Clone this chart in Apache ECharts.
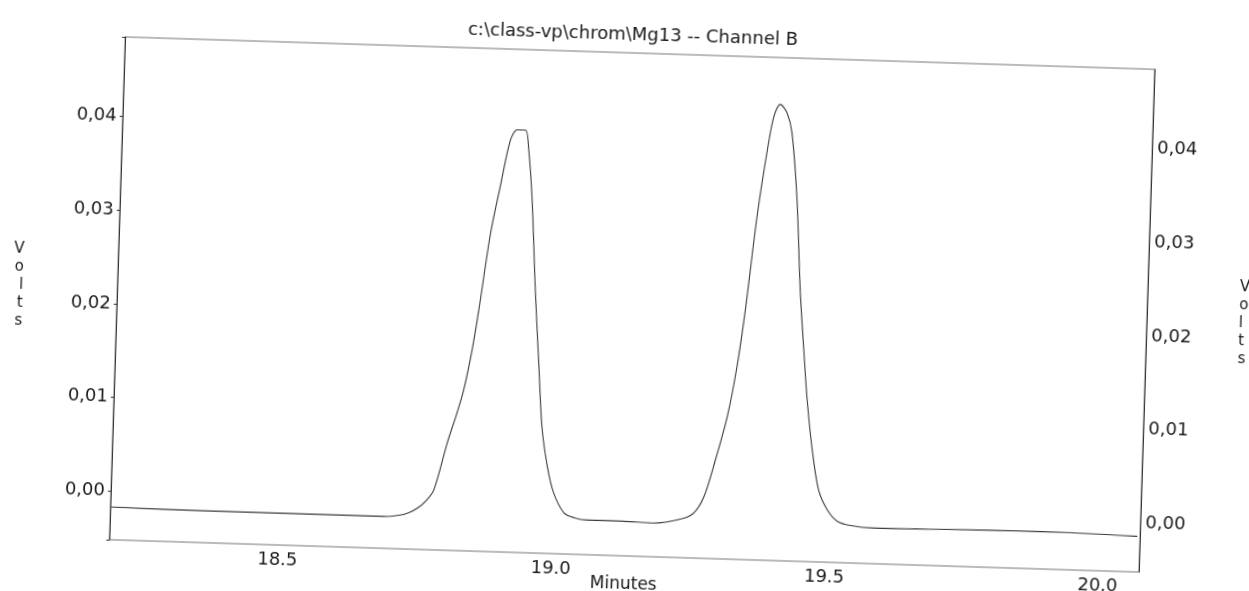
<!DOCTYPE html>
<html style="height: 100%">
    <head>
        <title>Chromatogram Channel B</title>
        <script type="text/javascript" src="https://fastly.jsdelivr.net/npm/echarts@6/dist/echarts.min.js"></script>

<style>
    /* the scanned printout sits a little skewed, so tilt the chart the same way */
    #target {
        width: 1249px;
        height: 591px;
        transform: rotate(1.8deg);
        transform-origin: 631.6px 304.7px;
    }
</style>
    </head>

    <body style="height: 100%; margin: 0; background: #ffffff; overflow: hidden">
        <div id="target"></div>

<script type="text/javascript">
// chart text
let titleText = "c:\\class-vp\\chrom\\Mg13 -- Channel B";
let xName = "Minutes";
let yName = "V\no\nl\nt\ns";

// axis ranges
let xMin = 18.192;
let xMax = 20.075;
let yMin = -0.0052;
let yMax = 0.0485;

// detector trace, minutes
let times = [
    18.192, 18.357, 18.540, 18.692, 18.722, 18.738, 18.753, 18.768, 18.782, 18.804,
    18.820, 18.831, 18.844, 18.854, 18.871, 18.886, 18.902, 18.914, 18.929, 18.936,
    18.945, 18.956, 18.967, 18.976, 18.988, 19.001, 19.021, 19.040, 19.064, 19.125,
    19.186, 19.234, 19.258, 19.276, 19.292, 19.314, 19.329, 19.341, 19.357, 19.372,
    19.382, 19.393, 19.406, 19.416, 19.429, 19.440, 19.450, 19.459, 19.471, 19.485,
    19.502, 19.521, 19.545, 19.588, 19.710, 19.893, 20.070,
];

// detector trace, volts
let volts = [
    -0.0017, -0.0018, -0.0018, -0.0018, -0.0016, -0.0013, -0.0008, 0.0000, 0.0012, 0.0063,
    0.0095, 0.0120, 0.0163, 0.0206, 0.0288, 0.0338, 0.0388, 0.0399, 0.0399, 0.0378,
    0.0325, 0.0229, 0.0147, 0.0083, 0.0041, 0.0013, -0.0008, -0.0013, -0.0015, -0.0015,
    -0.0016, -0.0011, -0.0004, 0.0014, 0.0047, 0.0100, 0.0154, 0.0215, 0.0315, 0.0386,
    0.0422, 0.0435, 0.0426, 0.0405, 0.0334, 0.0238, 0.0174, 0.0121, 0.0068, 0.0025,
    0.0004, -0.0008, -0.0012, -0.0014, -0.0013, -0.0012, -0.0014,
];

let chart = echarts.init(document.getElementById('target'));

let data = [];
times.forEach((t, i) => {
    data.push([t, volts[i]]);
});

let textStyle = {
    fontFamily: "DejaVu Sans",
    fontSize: 18,
    color: "#1a1a1a",
};

// only label the round values, not the ends of the range
let FmtX = (v) => {
    if (Math.abs(v * 2 - Math.round(v * 2)) > 1e-6) return "";
    return v.toFixed(1);
};
let FmtY = (v) => {
    if (Math.abs(v * 100 - Math.round(v * 100)) > 1e-6) return "";
    return v.toFixed(2).replace(".", ",");
};

let MakeYAxis = (position, margin, nameGap, namePadding) => {
    return {
        type: "value",
        position: position,
        min: yMin,
        max: yMax,
        minInterval: 0.01,
        maxInterval: 0.01,
        name: yName,
        nameLocation: "middle",
        nameRotate: 0,
        nameGap: nameGap,
        nameMoveOverlap: false,
        nameTextStyle: {
            fontFamily: "DejaVu Sans",
            fontSize: 15,
            lineHeight: 18,
            color: "#1a1a1a",
            padding: namePadding,
        },
        axisLine: {
            show: true,
            lineStyle: { color: "#333333", width: 1 },
        },
        axisTick: {
            show: position == "left",
            length: 3,
            lineStyle: { color: "#333333" },
        },
        axisLabel: Object.assign({ margin: margin, formatter: FmtY }, textStyle),
        splitLine: { show: false },
    };
};

let option = {
    animation: false,
    backgroundColor: "#ffffff",
    title: {
        text: titleText,
        left: "center",
        top: 12,
        textStyle: {
            fontFamily: "DejaVu Sans",
            fontSize: 18,
            fontWeight: "normal",
            color: "#1a1a1a",
        },
    },
    grid: {
        left: 117,
        right: 102,
        top: 53,
        bottom: 35,
        outerBoundsMode: "none",
        show: true,
        borderColor: "#777777",
        borderWidth: 1,
    },
    xAxis: {
        type: "value",
        min: xMin,
        max: xMax,
        minInterval: 0.5,
        maxInterval: 0.5,
        name: xName,
        nameLocation: "middle",
        nameGap: 12,
        nameMoveOverlap: false,
        nameTextStyle: {
            fontFamily: "DejaVu Sans",
            fontSize: 17,
            color: "#1a1a1a",
            verticalAlign: "top",
        },
        axisLine: { show: false },
        axisTick: { show: false },
        axisLabel: Object.assign({ margin: -3, formatter: FmtX }, textStyle),
        splitLine: { show: false },
    },
    yAxis: [
        MakeYAxis("left", 6, 94, [0, 0, 0, 0]),
        MakeYAxis("right", 5, 92, [0, 0, 12, 0]),
    ],
    series: [
        {
            type: "line",
            data: data,
            yAxisIndex: 0,
            showSymbol: false,
            smooth: 0.3,
            lineStyle: { color: "#3a3a3a", width: 1.1 },
        },
    ],
};

chart.setOption(option, true);
</script>
    </body>
</html>
